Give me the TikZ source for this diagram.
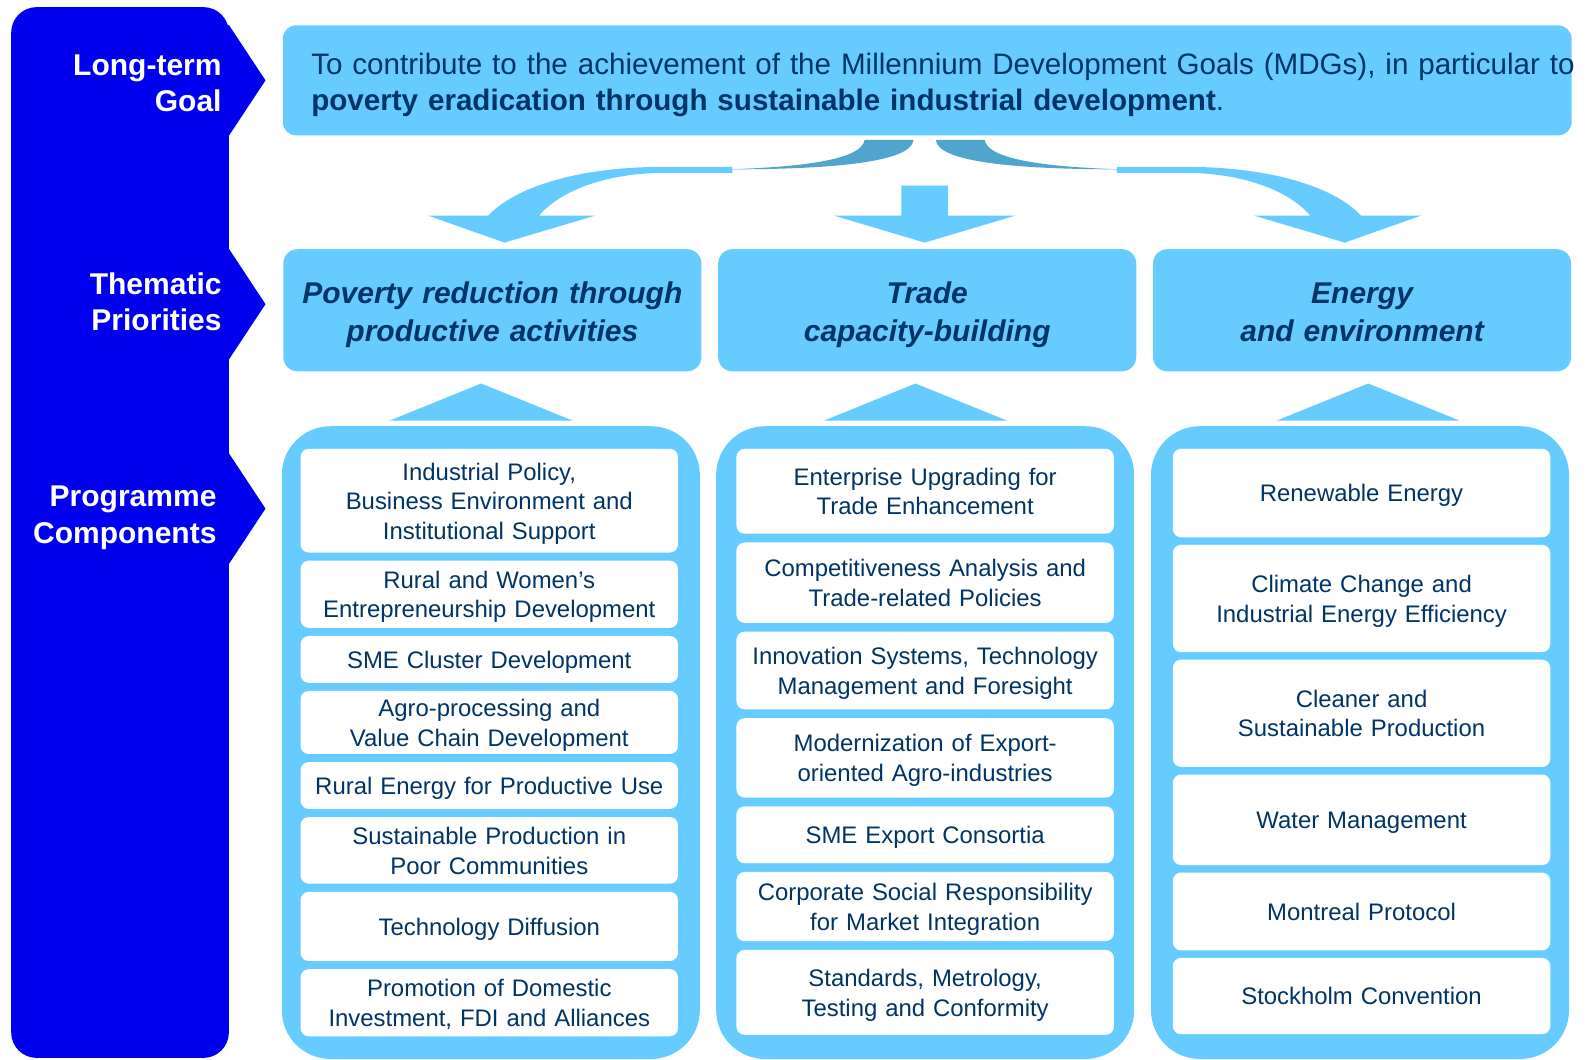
\documentclass[tikz,border=0pt]{standalone}
\usepackage{fontspec}
\setmainfont{Liberation Sans}
\usetikzlibrary{positioning}
\definecolor{skyblue}{RGB}{102,204,255}
\definecolor{shadeblue}{RGB}{80,165,207}
\definecolor{barblue}{RGB}{0,0,238}
\definecolor{navy}{RGB}{0,51,102}
\newcommand\itemfont{\fontsize{23.5pt}{29pt}\selectfont}
\newcommand\themefont{\fontsize{29.5pt}{36.5pt}\selectfont\bfseries\itshape}
\newcommand\sidefont{\fontsize{29.5pt}{35.5pt}\selectfont\bfseries}
% curved block arrow from the goal box down to the first priority
\newcommand\goalarrow{%
  \fill[shadeblue] (850,137.6) .. controls (847,156) and (795,164) .. (715,166.5)
    .. controls (815,166.5) and (896,160) .. (898,137.6) -- cycle;
  \fill[skyblue] (720,164) -- (650,164) .. controls (565,164.5) and (505,185) .. (480,212)
    -- (421,212) -- (496,238.5) -- (585,212) -- (530,212)
    .. controls (550,188) and (595,170.5) .. (650,170) -- (720,170) -- cycle;}

\begin{document}
\begin{tikzpicture}[x=1pt, y=-1pt,
  topstrut/.style={execute at begin node={\rule{0pt}{#1}}},
  botstrut/.style={execute at end node={\rule[-#1]{0pt}{#1}}},
  item/.style={fill=white, rounded corners=8pt, text width=371pt, inner xsep=0pt, inner ysep=2pt, align=center, text=navy, font=\itemfont, topstrut=22.5pt, botstrut=5pt},
  theme/.style={fill=skyblue, rounded corners=14pt, minimum width=411pt, minimum height=120pt, text width=411pt, inner sep=0pt, align=center, text=navy, font=\themefont, topstrut=30.5pt, botstrut=6.5pt},
  side/.style={text=white, align=right, anchor=east, inner sep=0pt, font=\sidefont}]
\useasboundingbox (0,0) rectangle (1568,1042);

% left bar with chevrons
\fill[barblue, rounded corners=25pt] (11,7) rectangle (225,1040);
\foreach \cy in {79,299,500}
  \fill[barblue] (205,\cy-54.5) -- (225,\cy-54.5) -- (261,\cy) -- (225,\cy+54.5) -- (205,\cy+54.5) -- cycle;
\node[side] (ltgoal) at (218,82) {Long-term\\Goal};
\node[side] (thpri) at (218,296.5) {Thematic\\Priorities};
\node[side] (prcomp) at (213,509) {Programme\\Components};

% goal
\node[fill=skyblue, rounded corners=13pt, minimum width=1267pt, minimum height=108pt, text width=1211pt, inner xsep=28pt, align=left, text=navy, font=\fontsize{29.1pt}{35pt}\selectfont, topstrut=29.5pt] (goal) at (911.5,79)
  {\mbox{To contribute to the achievement of the Millennium Development Goals (MDGs), in particular to}\\\textbf{poverty eradication through sustainable industrial development}.};

% arrows to the priorities
\goalarrow
\begin{scope}[xshift=1818pt, xscale=-1]
  \goalarrow
\end{scope}
\fill[skyblue] (886,182.5) -- (932,182.5) -- (932,212) -- (998,212) -- (909,238.5) -- (820,212) -- (886,212) -- cycle;

% thematic priorities
\node[theme] (povred) at (484,305) {Poverty reduction through\\productive activities};
\node[theme] (trade) at (911.5,305) {Trade\\capacity-building};
\node[theme] (energy) at (1339,305) {Energy\\and environment};

% frames and triangles
\foreach \cx in {482.5,909.5,1337}
  \fill[skyblue, rounded corners=48pt] (\cx-205.5,419) rectangle (\cx+205.5,1041);
\foreach \tx in {473,900,1345}
  \fill[skyblue] (\tx-90,413.5) -- (\tx,377) -- (\tx+90,413.5) -- cycle;

% programme components
\node[item, minimum height=102pt, anchor=north] (pr1) at (481,441) {Industrial Policy,\\Business Environment and\\Institutional Support};
\node[item, minimum height=66pt, below=7.6pt of pr1] (pr2) {Rural and Women’s\\Entrepreneurship Development};
\node[item, minimum height=46pt, below=7.6pt of pr2] (pr3) {SME Cluster Development};
\node[item, minimum height=62pt, below=7.6pt of pr3] (pr4) {Agro-processing and\\Value Chain Development};
\node[item, minimum height=46pt, below=7.6pt of pr4] (pr5) {Rural Energy for Productive Use};
\node[item, minimum height=65.5pt, below=7.6pt of pr5] (pr6) {Sustainable Production in\\Poor Communities};
\node[item, minimum height=68pt, below=7.6pt of pr6] (pr7) {Technology Diffusion};
\node[item, minimum height=66pt, below=7.6pt of pr7] (pr8) {Promotion of Domestic\\Investment, FDI and Alliances};

\node[item, minimum height=83.5pt, anchor=north] (tc1) at (909.5,441) {Enterprise Upgrading for\\Trade Enhancement};
\node[item, minimum height=79pt, below=8.2pt of tc1] (tc2) {Competitiveness Analysis and\\Trade-related Policies};
\node[item, minimum height=76.5pt, below=8.2pt of tc2] (tc3) {Innovation Systems, Technology\\Management and Foresight};
\node[item, minimum height=78pt, below=8.2pt of tc3] (tc4) {Modernization of Export-\\oriented Agro-industries};
\node[item, minimum height=56pt, below=8.2pt of tc4] (tc5) {SME Export Consortia};
\node[item, minimum height=68pt, below=8.2pt of tc5] (tc6) {Corporate Social Responsibility\\for Market Integration};
\node[item, minimum height=83.5pt, below=8.2pt of tc6] (tc7) {Standards, Metrology,\\Testing and Conformity};

\node[item, minimum height=87pt, anchor=north] (ee1) at (1338.5,441) {Renewable Energy};
\node[item, minimum height=105.5pt, below=7pt of ee1] (ee2) {Climate Change and\\Industrial Energy Efficiency};
\node[item, minimum height=105.5pt, below=7pt of ee2] (ee3) {Cleaner and\\Sustainable Production};
\node[item, minimum height=89pt, below=7pt of ee3] (ee4) {Water Management};
\node[item, minimum height=76.5pt, below=7pt of ee4] (ee5) {Montreal Protocol};
\node[item, minimum height=75pt, below=7pt of ee5] (ee6) {Stockholm Convention};
\end{tikzpicture}
\end{document}
